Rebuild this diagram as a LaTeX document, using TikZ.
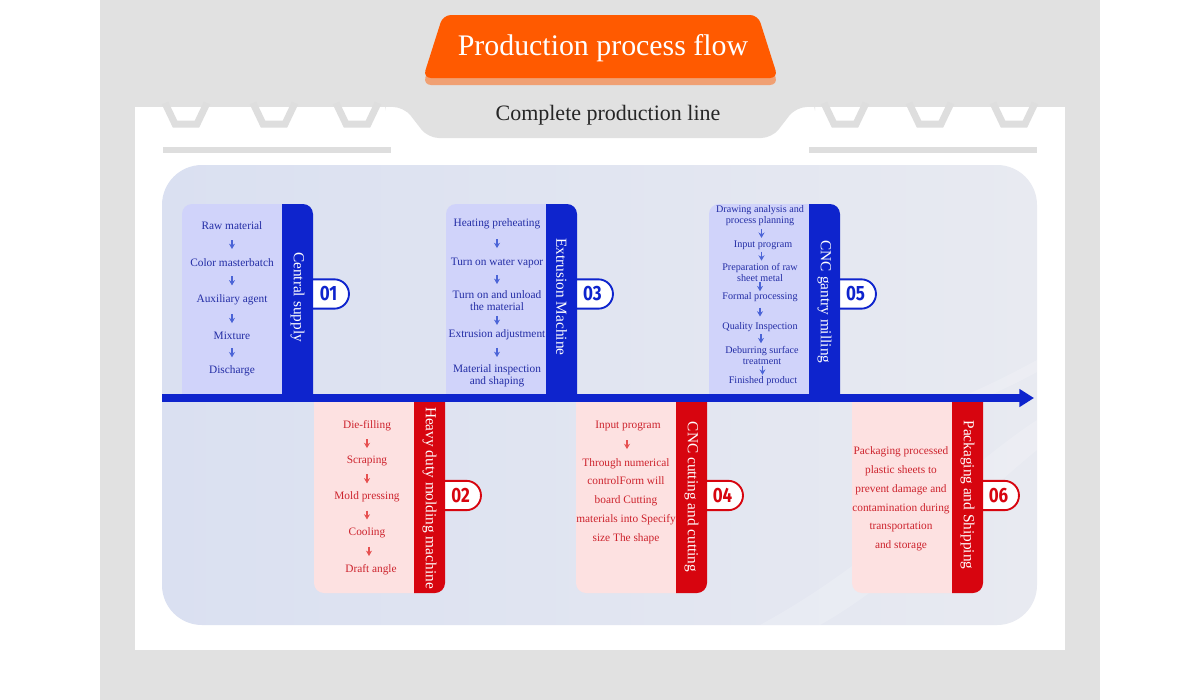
\documentclass[tikz,border=0pt]{standalone}
\usepackage{fontspec}
\setmainfont{Liberation Serif}
\newfontfamily\numfont{Fira Sans}
\usetikzlibrary{arrows.meta,shapes.misc,calc}
\definecolor{pagegrey}{RGB}{225,225,225}
\definecolor{trapgrey}{RGB}{222,222,222}
\definecolor{orangeA}{RGB}{255,90,0}
\definecolor{orangeS}{RGB}{240,160,115}
\definecolor{dblue}{RGB}{14,36,205}
\definecolor{lblue}{RGB}{208,211,250}
\definecolor{tblue}{RGB}{35,45,165}
\definecolor{ablue}{RGB}{75,100,215}
\definecolor{dred}{RGB}{215,5,15}
\definecolor{lred}{RGB}{253,225,225}
\definecolor{tred}{RGB}{205,35,45}
\definecolor{ared}{RGB}{230,80,80}
\definecolor{panelL}{RGB}{218,224,241}
\definecolor{panelR}{RGB}{232,234,241}
\tikzset{
  stepb/.style={font=\fontsize{8.5}{9}\selectfont, text=tblue, align=center, inner sep=0.5pt},
  stepbs/.style={font=\fontsize{7.6}{8.25}\selectfont, text=tblue, align=center, inner sep=0.5pt},
  stepr/.style={font=\fontsize{8.5}{9}\selectfont, text=tred, align=center, inner sep=0.5pt},
  parar/.style={font=\fontsize{8.5}{14.1}\selectfont, text=tred, align=center, inner sep=0.5pt},
  vlab/.style={rotate=-90, font=\fontsize{11.5}{12}\selectfont, text=white, inner sep=0pt},
  badgeb/.style={rounded rectangle, rounded rectangle left arc=none, draw=dblue, line width=1.4pt, fill=white,
     minimum width=29.25pt, minimum height=22pt, inner sep=0pt, text=dblue, font=\numfont\bfseries\fontsize{15.5}{15.5}\selectfont},
  badger/.style={badgeb, draw=dred, text=dred},
  sarrb/.style={draw=ablue, line width=1pt, -{Stealth[length=4pt,width=4.5pt]}},
  sarrr/.style={draw=ared, line width=1pt, -{Stealth[length=4pt,width=4.5pt]}},
  axisline/.style={draw=dblue, line width=6pt, -{Triangle[length=11pt,width=13pt]}}
}
\newcommand\TopBox[4]{%
  \fill[lblue] (#1,395) -- (#1,214) .. controls (#1,208.5) and (#1+4.5,204) .. (#1+10,204) -- (#1+100,204) -- (#1+100,395) -- cycle;
  \node[badgeb] (badge#2) at (#1+146.5,294) {\scalebox{0.82}[1]{#2}};
  \fill[dblue] (#1+100,395) -- (#1+100,204) -- (#1+121,204) .. controls (#1+126.5,204) and (#1+131,208.5) .. (#1+131,214) -- (#1+131,395) -- cycle;
  \node[vlab] (lab#2) at (#1+115.5,#4) {#3};
}
\newcommand\BotBox[4]{%
  \fill[lred] (#1,402) -- (#1+100,402) -- (#1+100,593) -- (#1+10,593) .. controls (#1+4.5,593) and (#1,588.5) .. (#1,583) -- cycle;
  \node[badger] (badge#2) at (#1+146.5,495.5) {\scalebox{0.82}[1]{#2}};
  \fill[dred] (#1+100,402) -- (#1+131,402) -- (#1+131,583) .. controls (#1+131,588.5) and (#1+126.5,593) .. (#1+121,593) -- (#1+100,593) -- cycle;
  \node[vlab] (lab#2) at (#1+115.5,#4) {#3};
}
\newcommand\SArr[3]{\draw[#1] ($(#2.south)!0.5!(#3.north)+(0,-4.5)$) -- ++(0,9);}
\begin{document}
\begin{tikzpicture}[x=0.75pt,y=-0.75pt]
\useasboundingbox (0,0) rectangle (1200,700);
\fill[white] (0,0) rectangle (1200,700);
\fill[pagegrey] (100,0) rectangle (1100,700);
% white sheet with central tab
\fill[white] (135,107) rectangle (1065,650);
\fill[pagegrey, rounded corners=8] (385,100) -- (385,107) -- (404,107) -- (428,138) -- (772,138) -- (796,107) -- (815,107) -- (815,100) -- cycle;
% trapezoid ornaments
\foreach \c in {186,274,357,845,930,1014}
  \draw[trapgrey, line width=5.25pt, line join=miter] (\c-21,103) -- (\c-11,124) -- (\c+11,124) -- (\c+21,103);
\fill[trapgrey] (163,147) rectangle (391,153);
\fill[trapgrey] (809,147) rectangle (1037,153);
% title banner
\fill[orangeS, rounded corners=6] (423,85) -- (443,22) -- (758,22) -- (778,85) -- cycle;
\fill[orangeA, rounded corners=6] (423,78) -- (443,15) -- (758,15) -- (778,78) -- cycle;
\node[font=\fontsize{22.4}{24}\selectfont, text=white, inner sep=0pt] (title) at (603,48) {Production process flow};
\node[font=\fontsize{16.5}{18}\selectfont, text=black!85, inner sep=0pt] (subtitle) at (608,115) {Complete production line};
% inner panel
\shade[left color=panelL, right color=panelR, rounded corners=30] (162,165) rectangle (1037,625);
\begin{scope}
  \clip[rounded corners=30] (162,165) rectangle (1037,625);
  \fill[white, opacity=0.18] (760,625) .. controls (880,560) and (960,470) .. (1037,420) -- (1037,450) .. controls (975,500) and (900,580) .. (820,625) -- cycle;
  \fill[white, opacity=0.18] (900,420) .. controls (960,400) and (1000,380) .. (1037,360) -- (1037,372) .. controls (1000,392) and (960,410) .. (900,426) -- cycle;
\end{scope}
% boxes
\TopBox{182}{01}{Central supply}{297}
\TopBox{446}{03}{Extrusion Machine}{297}
\TopBox{709}{05}{CNC gantry milling}{302}
\BotBox{314}{02}{Heavy duty molding machine}{498}
\BotBox{576}{04}{CNC cutting and cutting}{497}
\BotBox{852}{06}{Packaging and Shipping}{495}
% axis
\coordinate (axisL) at (162,398);
\coordinate (axisR) at (1034,398);
\draw[axisline] (axisL) -- (axisR);
% box 01
\node[stepb] (a1) at (232,226) {Raw material};
\node[stepb] (a2) at (232,263) {Color masterbatch};
\node[stepb] (a3) at (232,300) {Auxiliary agent};
\node[stepb] (a4) at (232,336) {Mixture};
\node[stepb] (a5) at (232,371) {Discharge};
\SArr{sarrb}{a1}{a2}\SArr{sarrb}{a2}{a3}\SArr{sarrb}{a3}{a4}\SArr{sarrb}{a4}{a5}
% box 03
\node[stepb] (c1) at (497,224) {Heating preheating};
\node[stepb] (c2) at (497,263) {Turn on water vapor};
\node[stepb] (c3) at (497,301) {Turn on and unload\\the material};
\node[stepb] (c4) at (497,335) {Extrusion adjustment};
\node[stepb] (c5) at (497,376) {Material inspection\\and shaping};
\SArr{sarrb}{c1}{c2}\SArr{sarrb}{c2}{c3}\SArr{sarrb}{c3}{c4}\SArr{sarrb}{c4}{c5}
% box 05
\node[stepbs] (e1) at (760,216) {Drawing analysis and\\process planning};
\node[stepbs] (e2) at (763,245) {Input program};
\node[stepbs] (e3) at (760,272) {Preparation of raw\\sheet metal};
\node[stepbs] (e4) at (760,297) {Formal processing};
\node[stepbs] (e5) at (760,327) {Quality Inspection};
\node[stepbs] (e6) at (762,355) {Deburring surface\\treatment};
\node[stepbs] (e7) at (763,381) {Finished product};
\SArr{sarrb}{e1}{e2}\SArr{sarrb}{e2}{e3}\SArr{sarrb}{e3}{e4}\SArr{sarrb}{e4}{e5}\SArr{sarrb}{e5}{e6}\SArr{sarrb}{e6}{e7}
% box 02
\node[stepr] (b1) at (367,426) {Die-filling};
\node[stepr] (b2) at (367,461) {Scraping};
\node[stepr] (b3) at (367,497) {Mold pressing};
\node[stepr] (b4) at (367,533) {Cooling};
\node[stepr] (b5) at (371,570) {Draft angle};
\SArr{sarrr}{b1}{b2}\SArr{sarrr}{b2}{b3}\SArr{sarrr}{b3}{b4}\SArr{sarrr}{b4}{b5}
% box 04
\node[stepr] (d1) at (628,426) {Input program};
\node[parar] (d2) at (626,501) {Through numerical\\controlForm will\\board Cutting\\materials into Specify\\size The shape};
\SArr{sarrr}{d1}{d2}
% box 06
\node[parar] (f1) at (901,499) {Packaging processed\\plastic sheets to\\prevent damage and\\contamination during\\transportation\\and storage};
\end{tikzpicture}
\end{document}
